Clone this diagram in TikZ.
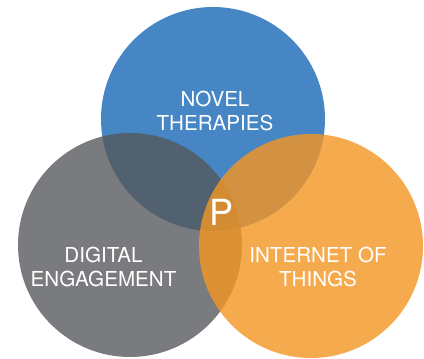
\documentclass[tikz,border=0pt]{standalone}
\usepackage{fontspec}
\setmainfont{TeX Gyre Heros}
\usetikzlibrary{positioning}
\definecolor{therapyblue}{RGB}{70,134,196}
\definecolor{engagegray}{RGB}{86,87,90}
\definecolor{thingsorange}{RGB}{243,150,36}
\tikzstyle{area}=[circle,draw=none,minimum size=224pt,inner sep=0pt]
\tikzstyle{label}=[text=white,align=center,inner sep=0pt,font=\fontsize{20.6}{24}\selectfont]

\begin{document}
\begin{tikzpicture}[x=1pt, y=-1pt]

   \useasboundingbox (0,0) rectangle (424,359);

  % the three areas, later ones lie over earlier ones
   \node[area, fill=therapyblue] (novel) at (213,119) {};
   \node[area, fill=engagegray, fill opacity=0.785] (digital) at (130,245) {};
   \node[area, fill=thingsorange, fill opacity=0.81] (iot) at (311,246) {};

   \node[label] (noveltext) at (215,111.2) {NOVEL\\THERAPIES};
   \node[label] (digitaltext) at (103.5,267) {DIGITAL\\ENGAGEMENT};
   \node[label] (iottext) at (318,267) {INTERNET OF\\THINGS};

   \node[label, font=\fontsize{36}{36}\selectfont] (p) at (222,212) {P};

\end{tikzpicture}
\end{document}
